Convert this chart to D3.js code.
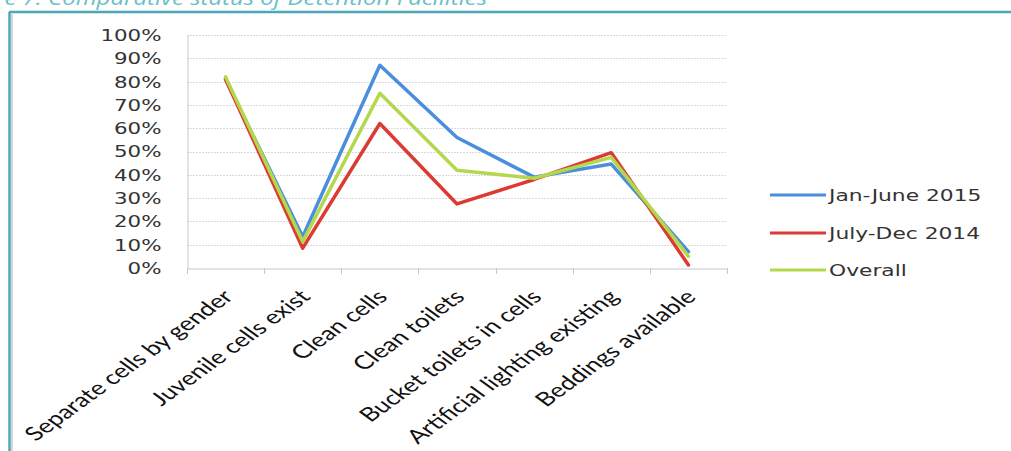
<!DOCTYPE html>
<html><head><meta charset="utf-8">
<script src="https://cdn.jsdelivr.net/npm/d3@7"></script>
<style>html,body{margin:0;padding:0;background:#fff;overflow:hidden}</style>
</head><body>
<svg id="chart" width="1011" height="451"></svg>
<script>
const categories = ["Separate cells by gender","Juvenile cells exist","Clean cells","Clean toilets","Bucket toilets in cells","Artificial lighting existing","Beddings available"];
const seriesNames = ["Jan-June 2015","July-Dec 2014","Overall"];
const janJune2015 = [0.81, 0.134, 0.87, 0.56, 0.39, 0.446, 0.07];
const julyDec2014 = [0.81, 0.085, 0.62, 0.275, 0.38, 0.495, 0.013];
const overall     = [0.82, 0.113, 0.75, 0.42, 0.385, 0.475, 0.05];
const yTicks = [0,0.1,0.2,0.3,0.4,0.5,0.6,0.7,0.8,0.9,1.0];
const titleText = "Figure 7: Comparative status of Detention Facilities";

const colors = ["#4b8fdc","#db3b33","#b4d84c"];
const seriesVals = [janJune2015, julyDec2014, overall];
const SX = 1.38; // horizontal stretch of the scanned figure

const svg = d3.select("#chart");
// frame
svg.append("line").attr("x1",9).attr("x2",1011).attr("y1",12).attr("y2",12).attr("stroke","#4aa9b9").attr("stroke-width",2.5);
svg.append("line").attr("x1",9.5).attr("x2",9.5).attr("y1",12).attr("y2",451).attr("stroke","#4aa9b9").attr("stroke-width",2.5);
svg.append("line").attr("x1",12).attr("x2",12).attr("y1",14).attr("y2",451).attr("stroke","#b9b9b9").attr("stroke-width",1.2);
// title
svg.append("text").attr("transform","translate(487,5) scale(1.2,1)").attr("text-anchor","end")
  .attr("font-family","Open Sans").attr("font-style","italic").attr("font-size",20)
  .attr("fill","#6cc0c9").text(titleText);

const L = 187, R = 727, T = 35, B = 268;
const x = d3.scaleBand().domain(categories).range([L,R]);
const y = d3.scaleLinear().domain([0,1]).range([B,T]);

// gridlines
svg.append("g").selectAll("line").data(yTicks.slice(1)).join("line")
  .attr("x1",L).attr("x2",R).attr("y1",d=>Math.round(y(d))+0.5).attr("y2",d=>Math.round(y(d))+0.5)
  .attr("stroke","#dcd8e0").attr("stroke-width",1).attr("stroke-dasharray","2,1");

// y axis
const yAxis = d3.axisLeft(y).tickValues(yTicks).tickFormat(d3.format(".0%")).tickSize(0);
const gy = svg.append("g").attr("transform",`translate(${L+0.5},0)`).call(yAxis);
gy.select(".domain").attr("stroke","#c8c8c8");
gy.selectAll("text").attr("x",0).attr("transform",`translate(-26,0) scale(${SX},1)`)
  .attr("font-family","DejaVu Sans").attr("font-size",15.5).attr("fill","#333").attr("dy","0.35em");

// x axis
const xAxis = d3.axisBottom(x).tickSize(0).tickFormat("");
const gx = svg.append("g").attr("transform",`translate(0,${B+0.5})`).call(xAxis);
gx.select(".domain").attr("stroke","#c8c8c8");
const bounds = categories.map(c=>x(c)).concat([R]);
svg.append("g").selectAll("line").data(bounds).join("line")
  .attr("x1",d=>Math.round(d)+0.5).attr("x2",d=>Math.round(d)+0.5).attr("y1",B).attr("y2",B+6)
  .attr("stroke","#c8c8c8");

// category labels
svg.append("g").selectAll("text").data(categories).join("text")
  .attr("transform",d=>`translate(${x(d)+x.bandwidth()/2+9},${B+30}) scale(${SX},1) rotate(-45)`)
  .attr("text-anchor","end").attr("font-family","Lato").attr("font-size",19.2).attr("fill","#111")
  .text(d=>d);

// lines
const line = d3.line().x((d,i)=>x(categories[i])+x.bandwidth()/2).y(d=>y(d));
svg.append("g").selectAll("path").data([0,1,2]).join("path")
  .attr("d",i=>line(seriesVals[i])).attr("fill","none").attr("stroke",i=>colors[i])
  .attr("stroke-width",3.5).attr("stroke-linejoin","round").attr("stroke-linecap","round");

// legend
const lg = svg.append("g");
const legY = [195,233,270];
seriesNames.forEach((n,i)=>{
  lg.append("line").attr("x1",770).attr("x2",826).attr("y1",legY[i]).attr("y2",legY[i]).attr("stroke",colors[i]).attr("stroke-width",3);
  lg.append("text").attr("transform",`translate(829,${legY[i]}) scale(1.32,1)`).attr("dy","0.35em")
    .attr("font-family","DejaVu Sans").attr("font-size",16.5).attr("fill","#333").text(n);
});
</script>
</body></html>
